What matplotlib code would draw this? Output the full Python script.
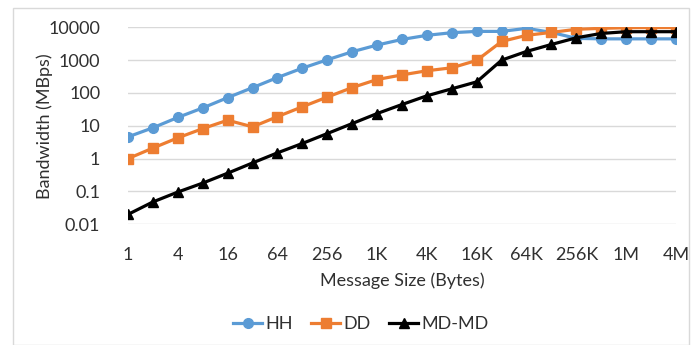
import numpy as np
import matplotlib
matplotlib.use("Agg")
import matplotlib.pyplot as plt
from matplotlib.patches import Rectangle
from matplotlib.ticker import FixedLocator, FixedFormatter, NullLocator

plt.rcParams['font.family'] = ['Lato', 'DejaVu Sans']

# message sizes 1 B .. 4 MB, powers of two
sizes = ["1", "2", "4", "8", "16", "32", "64", "128", "256", "512",
         "1K", "2K", "4K", "8K", "16K", "32K", "64K", "128K", "256K", "512K",
         "1M", "2M", "4M"]

hh = [4.6, 8.7, 18, 35, 72, 145, 295, 570, 1025, 1800,
      2880, 4270, 5700, 6850, 7500, 7500, 9300, 7000, 4600, 4450,
      4450, 4450, 4450]
dd = [1.0, 2.1, 4.3, 8.2, 14.8, 9.3, 19, 38, 75, 146,
      257, 355, 475, 585, 980, 3700, 5700, 7000, 8700, 9300,
      9700, 9800, 9800]
mdmd = [0.02, 0.048, 0.096, 0.18, 0.36, 0.74, 1.5, 2.9, 5.8, 11.7,
        23.6, 44.5, 82, 134, 218, 1000, 1840, 3000, 4800, 6500,
        7350, 7350, 7350]

ytick_vals = [0.01, 0.1, 1, 10, 100, 1000, 10000]
ytick_labels = ["0.01", "0.1", "1", "10", "100", "1000", "10000"]

W, H = 694, 345
fig = plt.figure(figsize=(W / 100, H / 100), dpi=100)
txt = "#303030"

# light chart-area border like the spreadsheet export
fig.patches.append(Rectangle((13 / W, 0), 676 / W, 1 - 8 / H, transform=fig.transFigure,
                             fill=False, edgecolor="#D9D9D9", linewidth=1))

ax = fig.add_axes([128 / W, 1 - 224.3 / H, 548 / W, 197 / H])
x = np.arange(len(sizes))

ax.plot(x, hh, color="#5B9BD5", linewidth=2.3, marker="o", markersize=7, label="HH", zorder=3)
ax.plot(x, dd, color="#ED7D31", linewidth=2.3, marker="s", markersize=7, label="DD", zorder=4)
ax.plot(x, mdmd, color="black", linewidth=2.3, marker="^", markersize=7.5, label="MD-MD", zorder=5)

ax.set_yscale("log")
ax.set_ylim(0.01, 10000)
ax.set_xlim(0, len(sizes) - 1)
ax.yaxis.set_major_locator(FixedLocator(ytick_vals))
ax.yaxis.set_major_formatter(FixedFormatter(ytick_labels))
ax.yaxis.set_minor_locator(NullLocator())
ax.set_xticks(x[::2])
ax.set_xticklabels(sizes[::2])

ax.grid(axis="y", color="#D9D9D9", linewidth=1)
ax.set_axisbelow(True)
for s in ax.spines.values():
    s.set_visible(False)
ax.tick_params(axis="both", length=0, labelsize=13, colors=txt)
ax.tick_params(axis="x", pad=16)
ax.tick_params(axis="y", pad=20)

ax.set_xlabel("Message Size (Bytes)", fontsize=13, color=txt, labelpad=7)
ax.set_ylabel("Bandwidth (MBps)", fontsize=13, color=txt, labelpad=-3)

fig.legend(loc="center", bbox_to_anchor=(361 / W, 1 - 324 / H), ncol=3, frameon=False,
           fontsize=13, handlelength=1.6, handletextpad=0.2, columnspacing=1.0,
           labelcolor=txt)

fig.savefig("out.png", dpi=100)
